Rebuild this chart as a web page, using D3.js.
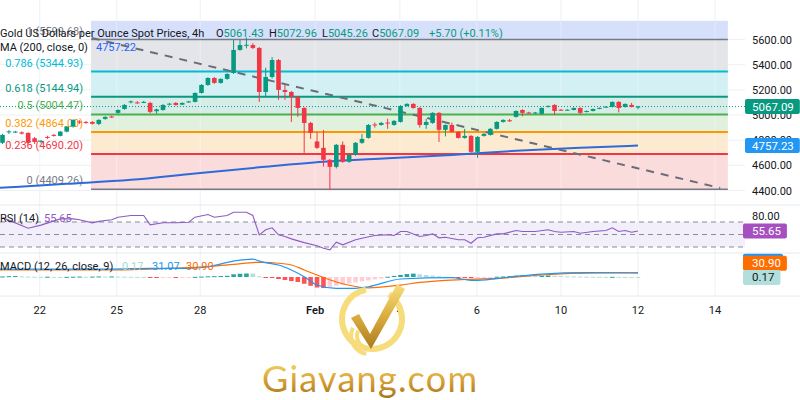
<!DOCTYPE html>
<html><head><meta charset="utf-8">
<script src="https://cdn.jsdelivr.net/npm/d3@7"></script>
<style>
body{margin:0;background:#fff;}
svg{display:block;font-family:Roboto,"Liberation Sans",Arial,sans-serif;}
</style>
</head><body>
<svg id="c" width="800" height="400"></svg>
<script>
// ---------------- DATA ----------------
const opens = [4779,4862,4864,4862,4858,4815,4786,4826,4842,4834,
4868,4908,4948,4945,4945,4929,4969,4988,5017,5048,
5100,5100,5100,5096,5030,5040,5082,5096,5082,5100,
5104,5175,5239,5294,5255,5287,5334,5517,5550,5556,
5533,5183,5302,5437,5199,5183,5144,5056,4937,4790,
4739,4644,4588,4763,4628,4683,4779,4818,4925,4921,
4940,4921,4945,5072,5088,5056,4921,4937,5017,4882,
4921,4866,4818,4834,4707,4834,4842,4890,4945,4958,
4985,5040,5020,5015,5009,5064,5080,5042,5038,5040,
5056,5025,5032,5050,5062,5064,5104,5064,5080,5061.43];
const highs = [4850,4880,4874,4870,4862,4825,4800,4835,4850,4872,
4912,4966,4958,4952,4950,4966,4990,4995,5045,5086,
5115,5110,5112,5104,5050,5086,5096,5102,5100,5112,
5180,5245,5300,5302,5292,5332,5596,5596,5615,5570,
5540,5375,5460,5445,5239,5190,5150,5062,4945,4866,
4880,4650,4770,4790,4690,4785,4850,4928,4940,4945,
4970,4960,5078,5094,5094,5062,4970,5022,5022,4925,
4940,4872,4890,4840,4832,4856,4896,4950,4966,4968,
5036,5046,5026,5024,5060,5076,5086,5048,5046,5060,
5060,5036,5052,5060,5070,5108,5110,5092,5096,5072.96];
const lows = [4770,4850,4858,4845,4770,4770,4775,4810,4828,4830,
4862,4900,4930,4930,4925,4920,4962,4978,5010,5042,
5092,5090,5094,5015,5010,5034,5076,5074,5078,5096,
5100,5170,5232,5248,5248,5280,5326,5510,5530,5525,
5104,5140,5290,5120,5120,4945,4985,4699,4810,4730,
4590,4405,4575,4620,4620,4676,4770,4812,4900,4915,
4890,4915,4940,5066,5050,4900,4890,4930,4786,4830,
4860,4812,4812,4700,4659,4828,4836,4884,4940,4945,
4980,4990,5010,5008,5004,5060,5000,5034,5034,5036,
5005,5020,5028,5046,5058,5060,5020,5058,5060,5045.26];
const closes = [4842,4870,4868,4852,4779,4786,4795,4822,4834,4868,
4908,4961,4940,4938,4930,4961,4985,4982,5040,5080,
5108,5098,5104,5025,5045,5080,5090,5080,5096,5108,
5175,5239,5294,5255,5287,5326,5517,5556,5558,5533,
5183,5302,5437,5199,5183,5144,5056,4937,4858,4739,
4644,4588,4763,4628,4683,4779,4810,4921,4918,4937,
4935,4953,5072,5088,5056,4921,4945,5017,4882,4921,
4866,4818,4834,4707,4826,4850,4890,4945,4961,4950,
5032,5017,5015,5020,5056,5072,5032,5038,5042,5056,
5017,5032,5048,5056,5066,5104,5056,5088,5064,5067.09];

// SMA 200 (read at sample bars)
const maIdx = [-0.4,10,20,30,40,50,60,70,80,90,99];
const maVal = [4421,4453,4485,4536,4584,4628,4656,4683,4715,4739,4757.23];

// dashed trendline [bar index, price]
const trendIdx = [13.9,111.8];
const trendVal = [5612,4420];

// Fibonacci retracement
const fibLow = 4409.26, fibHigh = 5599.68;
const fibLevels = [0,0.236,0.382,0.5,0.618,0.786,1,1.125];
const fibColors = ['#787b86','#f23645','#ff9800','#4caf50','#089981','#00bcd4','#787b86','#2962ff'];
const fibFills  = ['#fbdcdd','#fdebd1','#e2f1de','#d5ede6','#d3f0f4','#e4e5e9','#d6e0fa'];
const fibStartIdx = 13.8, fibEndIdx = 113;

// RSI(14) read at vertices
const rsiIdx = [0,4,6,9,11,12,14,15,17,18,20,22,23,25,27,29,30,32,33,35,36,38,39,40,41,42,43,44,45,47,49,50,51,52,53,55,56,58,60,61,62,63,65,66,67,68,69,71,72,73,74,75,77,78,80,81,83,85,86,87,89,90,92,94,95,96,97,98,99];
const rsiVal = [77,60,65,75,75,73.5,68.7,71,73.5,77.7,80.4,80.4,65.5,68.7,68.7,69.7,77.7,82,77.7,80.4,85.7,85.7,80.4,49.5,57.5,60.7,49.5,46.8,43,37,32,28,25.5,37.7,33.5,41.5,44,48.4,49.5,48.4,54.8,54.8,46.8,48.4,51,44.7,45.7,41.5,41.5,36,44.7,45.7,51,51,56.4,54.8,54.8,57.5,54.8,53.7,54.8,52,54.8,56.4,60.7,54.8,56.4,53.7,55.65];

// MACD (12,26,close,9)
const macdIdx = [-0.4,17,23,29,32,36,39,40,41,43,45,47,49,52,55,57,62,70,73,74,79,84,91,99];
const macdVal = [59,59,64,64,76,118,133,118,106,89,52,2,-59,-84,-84,-72,-15,-5,-25,-25,0,22,32,31.07];
const sigIdx = [-0.4,17,23,29,33,36,40,42,45,47,49,52,57,62,65,72,78,84,93,99];
const sigVal = [52,52,59,69,81,94,109,106,89,52,15,-37,-80,-60,-40,-18,-8,15,30,30.9];
const histVal = [4,6,7,5,3,2,1,2,1,0.5,
1,2,3,2,3,4,3,4,3,2,
1.5,1,0.5,-2,-3,-2.5,-2,-3,-2,-1,
1,3,5,6,7,9,20,24,26,25,
5,-3,-5,-15,-22,-30,-37,-50,-65,-78,
-82,-75,-65,-58,-48,-40,-32,-25,-18,-12,
2,8,15,22,25,20,15,10,6,2,
-2,-4,-6,-8,-5,-3,-1,2,4,6,
10,12,10,8,9,11,9,7,5,4,
3,2.5,2,1.5,1,1.5,1,0.6,0.4,0.17];

// axes
const priceTicks = [4400,4600,4800,5000,5200,5400,5600];
const rsiTicks = [80];
const timeLabels = ['22','25','28','Feb','4','6','10','12','14'];
const timeIdx = [5.8,17.8,30.8,48.7,61.9,73.9,87,99,111];

// ---------------- DRAW ----------------
const svg = d3.select('#c');
const UP='#089981', DN='#f23645', TXT='#131722';
const plotR = 745;
const x = d3.scaleLinear().domain([0,99]).range([2.5,638]);
const y = d3.scaleLinear().domain([4400,5600]).range([190.5,39.5]);
const yR = d3.scaleLinear().domain([30,70]).range([247,222]);
const yM = d3.scaleLinear().domain([-100,100]).range([290.5,263.5]);
const mainTop = 0, mainBot = 205, rsiTop=205, rsiBot=253, macdTop=253, macdBot=296;

const defs = svg.append('defs');
defs.append('clipPath').attr('id','cm').append('rect').attr('x',0).attr('y',mainTop).attr('width',plotR).attr('height',mainBot-mainTop);
defs.append('clipPath').attr('id','cr').append('rect').attr('x',0).attr('y',rsiTop).attr('width',plotR).attr('height',rsiBot-rsiTop);
defs.append('clipPath').attr('id','cmc').append('rect').attr('x',0).attr('y',macdTop).attr('width',plotR).attr('height',macdBot-macdTop);

svg.append('rect').attr('width',800).attr('height',400).attr('fill','#fff');

// grid
const grid = svg.append('g');
grid.selectAll('line.v').data(timeIdx).join('line')
  .attr('x1',d=>x(d)).attr('x2',d=>x(d)).attr('y1',0).attr('y2',macdBot)
  .attr('stroke','#eef0f4').attr('stroke-width',1);
grid.selectAll('line.h').data(priceTicks).join('line')
  .attr('x1',0).attr('x2',plotR).attr('y1',d=>y(d)).attr('y2',d=>y(d))
  .attr('stroke','#eef0f4');

const main = svg.append('g').attr('clip-path','url(#cm)');
const fibP = l => fibLow + l*(fibHigh-fibLow);
const fx0 = x(fibStartIdx), fx1 = x(fibEndIdx);
// bands
for(let k=0;k<fibLevels.length-1;k++){
  const a=y(fibP(fibLevels[k])), b=y(fibP(fibLevels[k+1]));
  main.append('rect').attr('x',fx0).attr('width',fx1-fx0).attr('y',b).attr('height',a-b)
    .attr('fill',fibFills[k]);
}
// vertical grid visible through bands
main.selectAll('line.vg').data(timeIdx).join('line')
  .attr('x1',d=>x(d)).attr('x2',d=>x(d)).attr('y1',y(fibP(1.125))).attr('y2',y(fibLow))
  .attr('stroke','#ffffff').attr('stroke-opacity',0.35);
// level lines
fibLevels.slice(0,7).forEach((l,k)=>{
  main.append('line').attr('x1',fx0).attr('x2',fx1).attr('y1',y(fibP(l))).attr('y2',y(fibP(l)))
    .attr('stroke',fibColors[k]).attr('stroke-width',k===0||k===6?1.5:2);
});
// level labels
fibLevels.slice(0,7).forEach((l,k)=>{
  main.append('text').attr('x',fx0-8).attr('y',y(fibP(l))-5).attr('text-anchor','end')
    .attr('font-size',11).attr('fill',fibColors[k])
    .text(`${l} (${fibP(l).toFixed(2)})`);
});

// SMA
main.append('path').datum(maIdx.map((d,i)=>[d,maVal[i]]))
  .attr('d',d3.line().x(d=>x(d[0])).y(d=>y(d[1])).curve(d3.curveMonotoneX))
  .attr('fill','none').attr('stroke','#2f6bd8').attr('stroke-width',2);

// trendline
main.append('line').attr('x1',x(trendIdx[0])).attr('y1',y(trendVal[0]))
  .attr('x2',x(trendIdx[1])).attr('y2',y(trendVal[1]))
  .attr('stroke','#6a6d78').attr('stroke-width',2).attr('stroke-dasharray','8,7');

// current price dotted line
main.append('line').attr('x1',0).attr('x2',plotR).attr('y1',y(closes[99])).attr('y2',y(closes[99]))
  .attr('stroke',UP).attr('stroke-width',1).attr('stroke-dasharray','1,2');

// candles
const cg = main.append('g');
const bw = 4.6;
opens.forEach((o,i)=>{
  const c=closes[i], col = c>=o?UP:DN;
  cg.append('line').attr('x1',x(i)).attr('x2',x(i)).attr('y1',y(highs[i])).attr('y2',y(lows[i]))
    .attr('stroke',col).attr('stroke-width',1);
  const top=y(Math.max(o,c)), bot=y(Math.min(o,c));
  cg.append('rect').attr('x',x(i)-bw/2).attr('width',bw).attr('y',top).attr('height',Math.max(1,bot-top))
    .attr('fill',col);
});

// legend main
const leg = svg.append('g').attr('font-size',11);
leg.append('text').attr('x',0).attr('y',37).attr('fill',TXT).text('Gold US Dollars per Ounce Spot Prices, 4h');
const ohlc = [['O',opens[99],216],['H',highs[99],269],['L',lows[99],322],['C',closes[99],372]];
ohlc.forEach(([k,v,px])=>{
  const t=leg.append('text').attr('x',px).attr('y',37);
  t.append('tspan').attr('fill',TXT).text(k);
  t.append('tspan').attr('fill',UP).text(v.toFixed(2));
});
leg.append('text').attr('x',429).attr('y',37).attr('fill',UP).text('+5.70 (+0.11%)');
const l2 = leg.append('text').attr('x',0).attr('y',51);
l2.append('tspan').attr('fill',TXT).text('MA (200, close, 0)');
l2.append('tspan').attr('x',96).attr('fill','#2962ff').text('4757.22');

// ---------------- RSI ----------------
const rsiG = svg.append('g').attr('clip-path','url(#cr)');
rsiG.append('rect').attr('x',0).attr('width',plotR).attr('y',yR(70)).attr('height',yR(30)-yR(70)).attr('fill','#f2eefa');
[70,50,30].forEach(v=>rsiG.append('line').attr('x1',0).attr('x2',plotR).attr('y1',yR(v)).attr('y2',yR(v))
  .attr('stroke','#8a8d97').attr('stroke-dasharray','5,4').attr('stroke-width',1));
rsiG.append('path').datum(rsiIdx.map((d,i)=>[d,rsiVal[i]]))
  .attr('d',d3.line().x(d=>x(d[0])).y(d=>yR(d[1])))
  .attr('fill','none').attr('stroke','#8e5bc4').attr('stroke-width',1.1);
const rl = svg.append('text').attr('x',0).attr('y',222).attr('font-size',11);
rl.append('tspan').attr('fill',TXT).text('RSI (14)');
rl.append('tspan').attr('x',44).attr('fill','#8e5bc4').text(rsiVal[rsiVal.length-1].toFixed(2));

// ---------------- MACD ----------------
const mg = svg.append('g').attr('clip-path','url(#cmc)');
histVal.forEach((h,i)=>{
  const prev = i>0?histVal[i-1]:h;
  const col = h>=0 ? (h>=prev?'#26a69a':'#b2dfdb') : (h<prev?'#ff5252':'#ffcdd2');
  const a=yM(0), b=yM(h);
  mg.append('rect').attr('x',x(i)-2.3).attr('width',4.6).attr('y',Math.min(a,b)).attr('height',Math.max(1,Math.abs(a-b))).attr('fill',col);
});
mg.append('path').datum(sigIdx.map((d,i)=>[d,sigVal[i]]))
  .attr('d',d3.line().x(d=>x(d[0])).y(d=>yM(d[1])).curve(d3.curveMonotoneX))
  .attr('fill','none').attr('stroke','#ff6d00').attr('stroke-width',1.2);
mg.append('path').datum(macdIdx.map((d,i)=>[d,macdVal[i]]))
  .attr('d',d3.line().x(d=>x(d[0])).y(d=>yM(d[1])).curve(d3.curveMonotoneX))
  .attr('fill','none').attr('stroke','#2196f3').attr('stroke-width',1.2);
const ml = svg.append('text').attr('x',0).attr('y',270).attr('font-size',11);
ml.append('tspan').attr('fill',TXT).text('MACD (12, 26, close, 9)');
ml.append('tspan').attr('x',122).attr('fill','#a8d8d2').text(histVal[99].toFixed(2));
ml.append('tspan').attr('x',152).attr('fill','#2196f3').text(macdVal[macdVal.length-1].toFixed(2));
ml.append('tspan').attr('x',186).attr('fill','#ff6d00').text(sigVal[sigVal.length-1].toFixed(2));

// ---------------- separators ----------------
[rsiTop,rsiBot,macdBot].forEach(v=>svg.append('line').attr('x1',0).attr('x2',800).attr('y1',v).attr('y2',v).attr('stroke','#e6e8ee'));

// ---------------- right axis ----------------
const ax = svg.append('g').attr('font-size',11).attr('fill',TXT);
priceTicks.forEach(p=>ax.append('text').attr('x',752).attr('y',y(p)+4).text(p.toFixed(2)));
rsiTicks.forEach(p=>ax.append('text').attr('x',752).attr('y',yR(p)+4).text(p.toFixed(2)));

function box(val, cy, bg, fg, leftPad){
  const g = svg.append('g');
  const t = g.append('text').attr('x',752).attr('y',cy+4).attr('font-size',11.5).attr('fill',fg).text(val);
  const w = t.node().getComputedTextLength();
  g.insert('rect','text').attr('x',752-leftPad).attr('y',cy-7.5).attr('width',w+leftPad+6).attr('height',15).attr('rx',2).attr('fill',bg);
}
box(closes[99].toFixed(2), y(closes[99]), UP, '#fff', 7);
box(maVal[maVal.length-1].toFixed(2), y(maVal[maVal.length-1]), '#2196f3', '#fff', 7);
box(rsiVal[rsiVal.length-1].toFixed(2), yR(rsiVal[rsiVal.length-1]), '#a54fc0', '#fff', 9);
// MACD value label is hidden behind the signal label: only its top edge shows
svg.append('rect').attr('x',743).attr('y',yM(macdVal[macdVal.length-1])-19).attr('width',40).attr('height',15).attr('rx',2).attr('fill','#2196f3');
box(sigVal[sigVal.length-1].toFixed(2), yM(sigVal[sigVal.length-1])-9.5, '#ff6d00', '#fff', 9);
box(histVal[99].toFixed(2), yM(histVal[99])+0.5, '#b2dfdb', TXT, 9);

// ---------------- time axis ----------------
svg.append('g').selectAll('text').data(timeLabels).join('text')
  .attr('x',(d,i)=>x(timeIdx[i])).attr('y',314).attr('text-anchor','middle')
  .attr('font-size',11).attr('fill',TXT).attr('font-weight',d=>d==='Feb'?600:400).text(d=>d);

// ---------------- watermark logo ----------------
const gold = defs.append('linearGradient').attr('id','gold').attr('gradientUnits','userSpaceOnUse')
  .attr('x1',0).attr('y1',285).attr('x2',0).attr('y2',352);
[['0','#f6dc7a'],['0.5','#d8a93c'],['1','#a5761a']].forEach(s=>gold.append('stop').attr('offset',s[0]).attr('stop-color',s[1]));
const gold2 = defs.append('linearGradient').attr('id','gold2').attr('gradientUnits','userSpaceOnUse')
  .attr('x1',0).attr('y1',364).attr('x2',0).attr('y2',398);
[['0','#f3cf63'],['0.55','#d19a2e'],['1','#a8741a']].forEach(s=>gold2.append('stop').attr('offset',s[0]).attr('stop-color',s[1]));
const lg = svg.append('g');
lg.append('path').attr('d',d3.arc()({innerRadius:27,outerRadius:33,startAngle:0.6,endAngle:2*Math.PI-0.2}))
  .attr('transform','translate(372,319)').attr('fill','url(#gold)');
lg.append('path').attr('d','M351,318 L359,314 L370,334 L397,284 L405,289 L371,349 Z').attr('fill','url(#gold)');
[[10,14],[16,20]].forEach(([r0,r1])=>{
  lg.append('path').attr('d',d3.arc()({innerRadius:r0,outerRadius:r1,startAngle:-Math.PI*0.95,endAngle:-Math.PI*0.35}))
    .attr('transform','translate(369,336)').attr('fill','url(#gold)');
});
lg.append('text').attr('x',262).attr('y',392).attr('font-family','Lato, "Open Sans", sans-serif')
  .attr('font-size',36).attr('textLength',215).attr('lengthAdjust','spacing')
  .attr('fill','url(#gold2)').text('Giavang.com');
</script>
</body></html>
